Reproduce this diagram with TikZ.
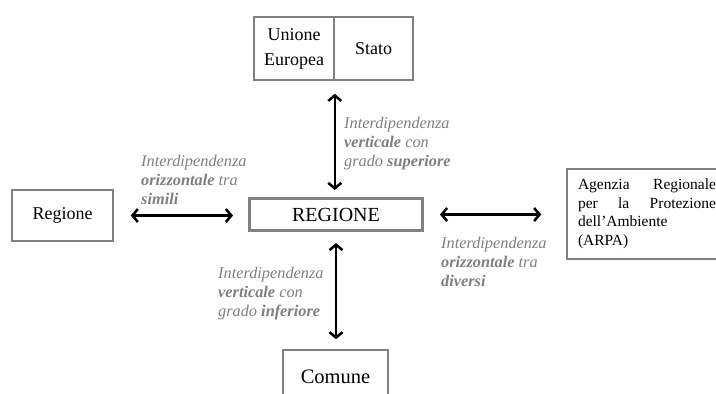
\documentclass[tikz,border=0pt]{standalone}
\usepackage{fontspec}
\setmainfont{Liberation Serif}
\usetikzlibrary{arrows.meta,calc}
\definecolor{frame}{HTML}{808080}
\definecolor{note}{HTML}{7F7F7F}
\begin{document}
\begin{tikzpicture}[x=1pt,y=-1pt,
  box/.style={draw=frame,line width=1.5pt,inner sep=0pt,align=center,
    font=\fontsize{18}{25}\selectfont},
  mainbox/.style={draw=frame,line width=3pt,inner sep=0pt,
    font=\fontsize{20}{24}\selectfont},
  link/.style={line width=2.5pt,
    {Straight Barb[length=5.5pt,width=13pt]}-{Straight Barb[length=5.5pt,width=13pt]}},
  notelbl/.style={anchor=north west,inner sep=0pt,align=left,text=note,
    font=\fontsize{16.3}{19.2}\selectfont\itshape}]
\useasboundingbox (0,0) rectangle (716,394);
\clip (0,0) rectangle (716,394);

% upper levels
\node[box,minimum width=80pt,minimum height=63pt] (eu) at (294,48.5) {Unione\\Europea};
\node[box,minimum width=79pt,minimum height=63pt] (stato) at (373.5,48.5) {Stato};

% central region and its peers
\node[mainbox,minimum width=173pt,minimum height=32pt] (reg) at (336,214.5) {REGIONE};
\node[box,minimum width=101pt,minimum height=51pt] (peer) at (62.5,215.5) {Regione};
\node[box,inner xsep=11pt,text width=138pt,align=left,minimum height=90pt,
  font=\fontsize{15.5}{18.5}\selectfont] (arpa) at (647,214)
  {\makebox[138pt]{Agenzia\hfill Regionale}\\
   \makebox[138pt]{per\hfill la\hfill Protezione}\\
   dell’Ambiente\\
   (ARPA)};

% lower level
\node[box,minimum width=105pt,minimum height=54pt,
  font=\fontsize{20.5}{24}\selectfont] (comune) at (335.5,377) {Comune};

% links
\draw[link] ([yshift=-13pt]eu.south east) -- ([yshift=7pt]reg.north -| eu.south east);
\draw[link] ([yshift=-11pt]reg.south) -- ([yshift=10pt]comune.north -| reg.south);
\draw[link] ([xshift=17pt]peer.east) -- ([xshift=-15pt]reg.west |- peer.east);
\draw[link] ([xshift=16pt]reg.east) -- ([xshift=-25pt]arpa.west |- reg.east);

% link labels
\node[notelbl] (lblpeer) at (141,155)
  {Interdipendenza\\\textbf{orizzontale} tra\\\textbf{simili}};
\node[notelbl] (lblup) at (344,117)
  {Interdipendenza\\\textbf{verticale} con\\grado \textbf{superiore}};
\node[notelbl] (lbldown) at (218,267)
  {Interdipendenza\\\textbf{verticale} con\\grado \textbf{inferiore}};
\node[notelbl] (lblarpa) at (441,237)
  {Interdipendenza\\\textbf{orizzontale} tra\\\textbf{diversi}};
\end{tikzpicture}
\end{document}
